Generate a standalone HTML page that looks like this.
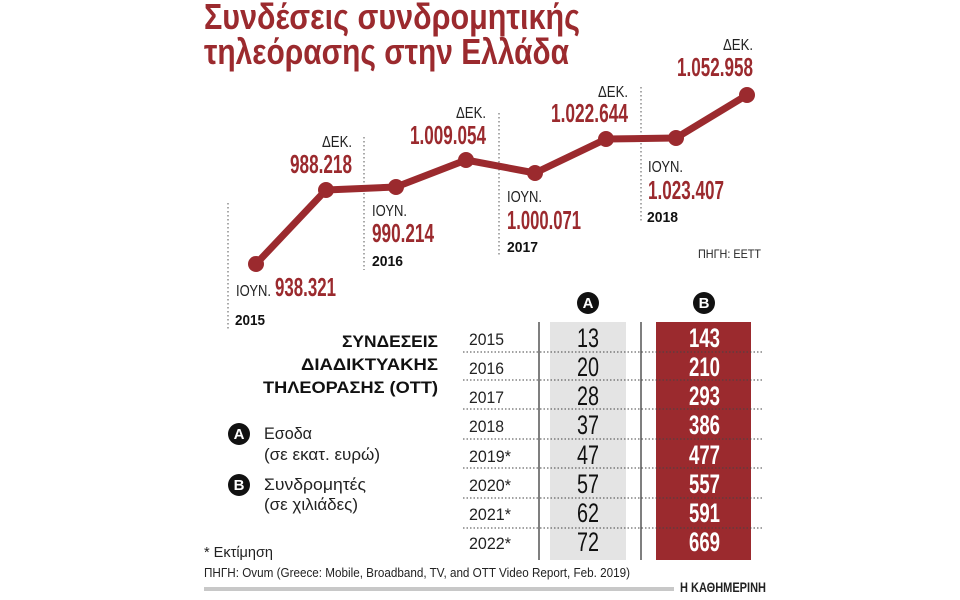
<!DOCTYPE html>
<html><head><meta charset="utf-8"><style>
html,body{margin:0;padding:0;background:#fff;}
svg{display:block;}
text{font-family:"Liberation Sans Narrow","Liberation Sans","DejaVu Sans Condensed",sans-serif;}
</style></head><body>
<svg width="960" height="600" viewBox="0 0 960 600" xmlns="http://www.w3.org/2000/svg">
<rect width="960" height="600" fill="#fff"/>
<g fill="#9b2a2e" font-size="36" font-weight="bold">
<text x="204" y="29" textLength="376" lengthAdjust="spacingAndGlyphs">Συνδέσεις συνδρομητικής</text>
<text x="204" y="64" textLength="365" lengthAdjust="spacingAndGlyphs">τηλεόρασης στην Ελλάδα</text>
</g>
<g stroke="#555" stroke-width="1" stroke-dasharray="1.5,2.5">
<line x1="228" y1="203" x2="228" y2="330"/>
<line x1="364" y1="137" x2="364" y2="270"/>
<line x1="499" y1="113" x2="499" y2="255"/>
<line x1="641" y1="87" x2="641" y2="222"/>
</g>
<polyline points="256,264 326,190 396,187 466,160 535,173 606,139 676,138 747,95" fill="none" stroke="#9b2a2e" stroke-width="7" stroke-linejoin="round"/>
<g fill="#9b2a2e">
<circle cx="256" cy="264" r="8"/><circle cx="326" cy="190" r="8"/><circle cx="396" cy="187" r="8"/><circle cx="466" cy="160" r="8"/><circle cx="535" cy="173" r="8"/><circle cx="606" cy="139" r="8"/><circle cx="676" cy="138" r="8"/><circle cx="747" cy="95" r="8"/>
</g>
<g font-size="16" fill="#222">
<text x="322" y="147" textLength="30" lengthAdjust="spacingAndGlyphs">ΔΕΚ.</text>
<text x="456" y="118" textLength="30" lengthAdjust="spacingAndGlyphs">ΔΕΚ.</text>
<text x="598" y="97" textLength="30" lengthAdjust="spacingAndGlyphs">ΔΕΚ.</text>
<text x="723" y="50" textLength="30" lengthAdjust="spacingAndGlyphs">ΔΕΚ.</text>
<text x="236" y="296" textLength="35" lengthAdjust="spacingAndGlyphs">ΙΟΥΝ.</text>
<text x="372" y="216" textLength="35" lengthAdjust="spacingAndGlyphs">ΙΟΥΝ.</text>
<text x="507" y="202" textLength="35" lengthAdjust="spacingAndGlyphs">ΙΟΥΝ.</text>
<text x="648" y="172" textLength="35" lengthAdjust="spacingAndGlyphs">ΙΟΥΝ.</text>
</g>
<g font-size="26" font-weight="bold" fill="#9b2a2e">
<text x="290" y="173" textLength="62" lengthAdjust="spacingAndGlyphs">988.218</text>
<text x="410" y="144" textLength="76" lengthAdjust="spacingAndGlyphs">1.009.054</text>
<text x="551" y="122" textLength="77" lengthAdjust="spacingAndGlyphs">1.022.644</text>
<text x="677" y="76" textLength="76" lengthAdjust="spacingAndGlyphs">1.052.958</text>
<text x="275" y="296" textLength="61" lengthAdjust="spacingAndGlyphs">938.321</text>
<text x="372" y="242" textLength="62" lengthAdjust="spacingAndGlyphs">990.214</text>
<text x="507" y="229" textLength="74" lengthAdjust="spacingAndGlyphs">1.000.071</text>
<text x="648" y="199" textLength="76" lengthAdjust="spacingAndGlyphs">1.023.407</text>
</g>
<g font-size="15" font-weight="bold" fill="#111">
<text x="235" y="325" textLength="30" lengthAdjust="spacingAndGlyphs">2015</text>
<text x="372" y="266" textLength="31" lengthAdjust="spacingAndGlyphs">2016</text>
<text x="507" y="252" textLength="31" lengthAdjust="spacingAndGlyphs">2017</text>
<text x="647" y="222" textLength="31" lengthAdjust="spacingAndGlyphs">2018</text>
</g>
<text x="698" y="258" font-size="12" fill="#222" textLength="63" lengthAdjust="spacingAndGlyphs">ΠΗΓΗ: ΕΕΤΤ</text>
<!-- table -->
<rect x="550" y="322" width="76" height="238" fill="#e4e4e4"/>
<rect x="656" y="322" width="95" height="238" fill="#9b2a2e"/>
<line x1="539" y1="322" x2="539" y2="560" stroke="#555" stroke-width="1.5"/>
<line x1="641" y1="322" x2="641" y2="560" stroke="#555" stroke-width="1.5"/>
<g stroke="#444" stroke-width="1" stroke-dasharray="1.5,2">
<line x1="463" y1="352" x2="763" y2="352"/><line x1="463" y1="380" x2="763" y2="380"/>
<line x1="463" y1="409" x2="763" y2="409"/><line x1="463" y1="439" x2="763" y2="439"/>
<line x1="463" y1="468" x2="763" y2="468"/><line x1="463" y1="498" x2="763" y2="498"/>
<line x1="463" y1="528" x2="763" y2="528"/>
</g>
<g fill="#111"><circle cx="588" cy="303" r="11"/><circle cx="704" cy="303" r="11"/></g>
<g fill="#fff" font-size="15" font-weight="bold" text-anchor="middle">
<text x="588" y="308" style="font-family:'Liberation Sans',sans-serif">A</text><text x="704" y="308" style="font-family:'Liberation Sans',sans-serif">B</text>
</g>
<g font-size="17" fill="#222">
<text x="469" y="345" textLength="35" lengthAdjust="spacingAndGlyphs">2015</text>
<text x="469" y="374" textLength="35" lengthAdjust="spacingAndGlyphs">2016</text>
<text x="469" y="403" textLength="35" lengthAdjust="spacingAndGlyphs">2017</text>
<text x="469" y="432" textLength="35" lengthAdjust="spacingAndGlyphs">2018</text>
<text x="469" y="462" textLength="42" lengthAdjust="spacingAndGlyphs">2019*</text>
<text x="469" y="491" textLength="42" lengthAdjust="spacingAndGlyphs">2020*</text>
<text x="469" y="520" textLength="42" lengthAdjust="spacingAndGlyphs">2021*</text>
<text x="469" y="549" textLength="42" lengthAdjust="spacingAndGlyphs">2022*</text>
</g>
<g font-size="27" fill="#111">
<text x="577" y="347" textLength="22" lengthAdjust="spacingAndGlyphs">13</text>
<text x="577" y="376" textLength="22" lengthAdjust="spacingAndGlyphs">20</text>
<text x="577" y="405" textLength="22" lengthAdjust="spacingAndGlyphs">28</text>
<text x="577" y="434" textLength="22" lengthAdjust="spacingAndGlyphs">37</text>
<text x="577" y="464" textLength="22" lengthAdjust="spacingAndGlyphs">47</text>
<text x="577" y="493" textLength="22" lengthAdjust="spacingAndGlyphs">57</text>
<text x="577" y="522" textLength="22" lengthAdjust="spacingAndGlyphs">62</text>
<text x="577" y="551" textLength="22" lengthAdjust="spacingAndGlyphs">72</text>
</g>
<g font-size="27" fill="#fff" font-weight="bold">
<text x="689" y="347" textLength="31" lengthAdjust="spacingAndGlyphs">143</text>
<text x="689" y="376" textLength="31" lengthAdjust="spacingAndGlyphs">210</text>
<text x="689" y="405" textLength="31" lengthAdjust="spacingAndGlyphs">293</text>
<text x="689" y="434" textLength="31" lengthAdjust="spacingAndGlyphs">386</text>
<text x="689" y="464" textLength="31" lengthAdjust="spacingAndGlyphs">477</text>
<text x="689" y="493" textLength="31" lengthAdjust="spacingAndGlyphs">557</text>
<text x="689" y="522" textLength="31" lengthAdjust="spacingAndGlyphs">591</text>
<text x="689" y="551" textLength="31" lengthAdjust="spacingAndGlyphs">669</text>
</g>
<g font-size="17" font-weight="bold" fill="#111">
<text x="342" y="347" textLength="96" lengthAdjust="spacingAndGlyphs">ΣΥΝΔΕΣΕΙΣ</text>
<text x="301" y="370" textLength="137" lengthAdjust="spacingAndGlyphs">ΔΙΑΔΙΚΤΥΑΚΗΣ</text>
<text x="263" y="393" textLength="175" lengthAdjust="spacingAndGlyphs">ΤΗΛΕΟΡΑΣΗΣ (ΟΤΤ)</text>
</g>
<g fill="#111"><circle cx="239" cy="434" r="11"/><circle cx="239" cy="485" r="11"/></g>
<g fill="#fff" font-size="15" font-weight="bold" text-anchor="middle">
<text x="239" y="439" style="font-family:'Liberation Sans',sans-serif">A</text><text x="239" y="490" style="font-family:'Liberation Sans',sans-serif">B</text>
</g>
<g font-size="17" fill="#222">
<text x="264" y="439" textLength="48" lengthAdjust="spacingAndGlyphs">Εσοδα</text>
<text x="264" y="460" textLength="116" lengthAdjust="spacingAndGlyphs">(σε εκατ. ευρώ)</text>
<text x="264" y="490" textLength="102" lengthAdjust="spacingAndGlyphs">Συνδρομητές</text>
<text x="264" y="510" textLength="94" lengthAdjust="spacingAndGlyphs">(σε χιλιάδες)</text>
</g>
<text x="204" y="557" font-size="15" fill="#222" textLength="69" lengthAdjust="spacingAndGlyphs">* Εκτίμηση</text>
<text x="204" y="577" font-size="13" fill="#222" textLength="426" lengthAdjust="spacingAndGlyphs">ΠΗΓΗ: Ovum (Greece: Mobile, Broadband, TV, and OTT Video Report, Feb. 2019)</text>
<rect x="204" y="587" width="470" height="4" fill="#c8c8c8"/>
<text x="680" y="592" font-size="14" font-weight="bold" fill="#222" textLength="86" lengthAdjust="spacingAndGlyphs">Η ΚΑΘΗΜΕΡΙΝΗ</text>
</svg>
</body></html>
